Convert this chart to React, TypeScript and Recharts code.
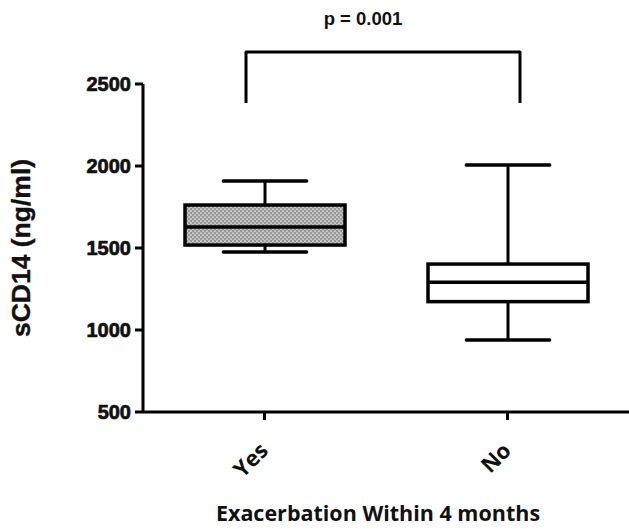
import React from "react";
import { ComposedChart, Bar, XAxis, YAxis } from "recharts";

const categories = ["Yes", "No"];
const minValues = [1476, 939];
const q1Values = [1518, 1173];
const medianValues = [1628, 1291];
const q3Values = [1762, 1402];
const maxValues = [1909, 2006];
const yTicks = [500, 1000, 1500, 2000, 2500];
const fills = ["url(#dotPattern)", "#ffffff"];

const data = categories.map((name, i) => ({
  name,
  min: minValues[i],
  q1: q1Values[i],
  median: medianValues[i],
  q3: q3Values[i],
  max: maxValues[i],
  fill: fills[i],
}));

const ARIAL = "'Liberation Sans', Arial, sans-serif";
const SANS = "'Open Sans', sans-serif";

function BoxShape(props: any) {
  const { x, y, width, height, payload } = props;
  const { min, q1, median, q3, max, fill } = payload;
  const py = (v: number) => y + ((max - v) / (max - min)) * height;
  const cx = x + width / 2;
  const capHalf = width * 0.26;
  const sw = 3.5;
  return (
    <g>
      <line x1={cx} x2={cx} y1={py(max)} y2={py(q3)} stroke="#000" strokeWidth={3} />
      <line x1={cx} x2={cx} y1={py(q1)} y2={py(min)} stroke="#000" strokeWidth={3} />
      <line x1={cx - capHalf} x2={cx + capHalf} y1={py(max)} y2={py(max)} stroke="#000" strokeWidth={sw} strokeLinecap="round" />
      <line x1={cx - capHalf} x2={cx + capHalf} y1={py(min)} y2={py(min)} stroke="#000" strokeWidth={sw} strokeLinecap="round" />
      <rect x={x} y={py(q3)} width={width} height={py(q1) - py(q3)} fill={fill} stroke="#000" strokeWidth={sw} />
      <line x1={x} x2={x + width} y1={py(median)} y2={py(median)} stroke="#000" strokeWidth={sw} />
    </g>
  );
}

function XTick(props: any) {
  const { x, y, payload } = props;
  const ax = x + 5;
  const ay = y + 30;
  return (
    <text
      x={ax}
      y={ay}
      transform={`rotate(-45, ${ax}, ${ay})`}
      textAnchor="end"
      fontFamily={SANS}
      fontWeight={700}
      fontSize={22}
      fill="#111"
    >
      {payload.value}
    </text>
  );
}

function YTick(props: any) {
  const { x, y, payload } = props;
  return (
    <text
      x={x}
      y={y}
      dy={7}
      textAnchor="end"
      fontFamily={ARIAL}
      fontWeight={700}
      fontSize={20}
      fill="#111"
      stroke="#111"
      strokeWidth={0.7}
    >
      {payload.value}
    </text>
  );
}

export default function App() {
  return (
    <div style={{ position: "absolute", left: 0, top: 0, width: 629, height: 529, background: "#fff" }}>
      <ComposedChart width={629} height={529} data={data} margin={{ top: 84, right: 0, bottom: 0, left: 0 }}>
        <defs>
          <pattern id="dotPattern" x={0} y={0} width={4} height={4} patternUnits="userSpaceOnUse">
            <rect x={0} y={0} width={4} height={4} fill="#979797" />
            <circle cx={1} cy={1} r={0.85} fill="#f0f0f0" />
            <circle cx={3} cy={3} r={0.85} fill="#f0f0f0" />
          </pattern>
        </defs>
        <XAxis
          dataKey="name"
          height={117}
          axisLine={{ stroke: "#000", strokeWidth: 3 }}
          tickLine={{ stroke: "#000", strokeWidth: 3 }}
          tickSize={8}
          tick={<XTick />}
          interval={0}
          label={{
            value: "Exacerbation Within 4 months",
            position: "insideBottom",
            offset: 8,
            dx: -8,
            style: { fontFamily: SANS, fontWeight: 700, fontSize: 21.5, fill: "#111" },
          }}
        />
        <YAxis
          width={143}
          domain={[500, 2500]}
          ticks={yTicks}
          type="number"
          allowDataOverflow
          axisLine={{ stroke: "#000", strokeWidth: 3 }}
          tickLine={{ stroke: "#000", strokeWidth: 3 }}
          tickSize={8}
          tickMargin={4}
          tick={<YTick />}
          label={{
            value: "sCD14 (ng/ml)",
            angle: -90,
            position: "insideLeft",
            offset: 0,
            dx: 21,
            style: { textAnchor: "middle", fontFamily: ARIAL, fontWeight: 700, fontSize: 26.5, fill: "#111", stroke: "#111", strokeWidth: 0.4 },
          }}
        />
        <Bar
          dataKey={(d: any) => [d.min, d.max]}
          barSize={160}
          shape={<BoxShape />}
          isAnimationActive={false}
        />
      </ComposedChart>
      <svg width={629} height={529} style={{ position: "absolute", left: 0, top: 0, pointerEvents: "none" }}>
        <path d="M246 103 L246 52 L520 52 L520 103" fill="none" stroke="#000" strokeWidth={3} strokeLinejoin="round" />
        <text x={363} y={25} textAnchor="middle" fontFamily={ARIAL} fontWeight={700} fontSize={18.5} fill="#111">
          p = 0.001
        </text>
      </svg>
    </div>
  );
}
